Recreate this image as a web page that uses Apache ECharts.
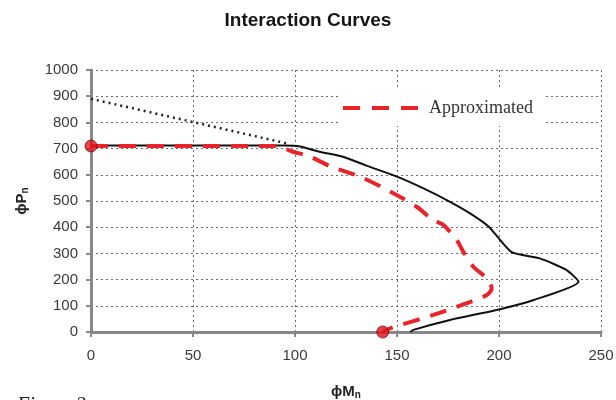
<!DOCTYPE html>
<html>
<head>
<meta charset="utf-8">
<script src="https://cdn.jsdelivr.net/npm/echarts@6/dist/echarts.min.js"></script>
<style>html,body{margin:0;padding:0;background:#fff}#c{width:616px;height:400px}</style>
</head>
<body>
<div id="c"></div>
<script>
// Data
var xTicks = [0, 50, 100, 150, 200, 250];
var yTicks = [0, 100, 200, 300, 400, 500, 600, 700, 800, 900, 1000];

// Actual interaction curve (solid black): [phiMn, phiPn]
var actualM = [0, 95, 102.5, 112, 123.5, 135, 150, 163, 176, 186, 195, 206, 220, 233, 239, 217, 200.5, 176, 158, 156.5];
var actualP = [712, 712, 708, 688, 669, 635, 593, 548, 497, 452, 402, 306, 281, 237, 192, 122, 87, 46, 8, 0];

// Dotted extension (black dotted)
var dottedM = [0, 97];
var dottedP = [890, 718];

// Approximated curve (red dashed)
var approxM = [0, 90, 99, 107.4, 118, 131.9, 149.8, 159.6, 167.8, 172.5, 179.3, 182.5, 187.4, 194, 196.4, 194, 184.2, 167.8, 146.6, 143];
var approxP = [710, 710, 688, 669, 630, 593, 523, 478, 427, 410, 351, 306, 249, 205, 167, 141, 110, 65, 14, 0];

// Red marker points
var markerM = [0, 143];
var markerP = [710, 0];

function pairs(xs, ys) { return xs.map(function (x, i) { return [x, ys[i]]; }); }

var chart = echarts.init(document.getElementById('c'), null, { renderer: 'canvas' });
var gridLine = { show: true, lineStyle: { color: '#6a6a6a', width: 1, type: [2, 3] } };
var sans = 'Liberation Sans, Arial, sans-serif';
chart.setOption({
  animation: false,
  backgroundColor: '#fff',
  title: {
    text: 'Interaction Curves',
    left: 'center', top: 6,
    textStyle: { fontFamily: sans, fontSize: 19, fontWeight: 'bold', color: '#151515' }
  },
  legend: {
    data: [{ name: 'Approximated', icon: 'path://M0,0h17v4h-17z M29,0h17v4h-17z M58,0h17v4h-17z' }],
    left: 338, top: 90,
    backgroundColor: '#fff',
    padding: [9, 10, 9, 5],
    itemWidth: 77, itemHeight: 4,
    itemStyle: { color: '#e8242a' },
    textStyle: { fontFamily: 'Liberation Serif, Times New Roman, serif', fontSize: 18, color: '#333', padding: [0, 0, 0, 5] }
  },
  grid: { left: 91, right: 15, top: 70, bottom: 68, containLabel: false, outerBoundsMode: 'none' },
  xAxis: {
    type: 'value', min: xTicks[0], max: xTicks[xTicks.length - 1], interval: 50,
    name: '{a|\u03D5M}{s|n}', nameLocation: 'middle', nameGap: 52,
    nameTextStyle: { rich: {
      a: { fontFamily: sans, fontSize: 15, fontWeight: 'bold', color: '#222' },
      s: { fontFamily: sans, fontSize: 10, fontWeight: 'bold', color: '#222', padding: [6, 0, 0, 0] }
    } },
    axisLine: { show: true, onZero: false, lineStyle: { color: '#888', width: 3 } },
    axisTick: { show: true, length: 5, lineStyle: { color: '#888', width: 2 } },
    axisLabel: { margin: 16, fontFamily: sans, fontSize: 15, color: '#3a3a3a', formatter: function (v) { return String(v); } },
    splitLine: gridLine
  },
  yAxis: {
    type: 'value', min: yTicks[0], max: yTicks[yTicks.length - 1], interval: 100,
    name: '{a|\u03D5P}{s|n}', nameLocation: 'middle', nameGap: 61, nameRotate: 90,
    nameTextStyle: { rich: {
      a: { fontFamily: sans, fontSize: 15, fontWeight: 'bold', color: '#222' },
      s: { fontFamily: sans, fontSize: 10, fontWeight: 'bold', color: '#222', padding: [6, 0, 0, 0] }
    } },
    axisLine: { show: true, onZero: false, lineStyle: { color: '#888', width: 3 } },
    axisTick: { show: true, length: 5, lineStyle: { color: '#888', width: 2 } },
    axisLabel: { margin: 13, fontFamily: sans, fontSize: 15, color: '#3a3a3a', formatter: function (v) { return String(v); } },
    splitLine: gridLine
  },
  graphic: [{
    type: 'text', left: 17, top: 396,
    style: { text: 'Figure 2', font: 'italic 20px "Liberation Serif", "Times New Roman", serif', fill: '#222' }
  }],
  series: [
    {
      name: 'Dotted', type: 'line', data: pairs(dottedM, dottedP), symbol: 'none',
      lineStyle: { color: '#222', width: 2.5, type: [2, 4] }, z: 2
    },
    {
      name: 'Actual', type: 'line', data: pairs(actualM, actualP), symbol: 'none', smooth: 0.2,
      lineStyle: { color: '#111', width: 2 }, z: 3
    },
    {
      name: 'Approximated', type: 'line', data: pairs(approxM, approxP), symbol: 'none', smooth: 0.3,
      itemStyle: { color: '#e8242a' },
      lineStyle: { color: '#e8242a', width: 4, type: [17, 11] }, z: 4
    },
    {
      name: 'Markers', type: 'scatter', data: pairs(markerM, markerP), symbol: 'circle', symbolSize: 12,
      itemStyle: { color: '#e0141c', borderColor: '#7a1010', borderWidth: 1 }, z: 5
    }
  ]
});
</script>
</body>
</html>
